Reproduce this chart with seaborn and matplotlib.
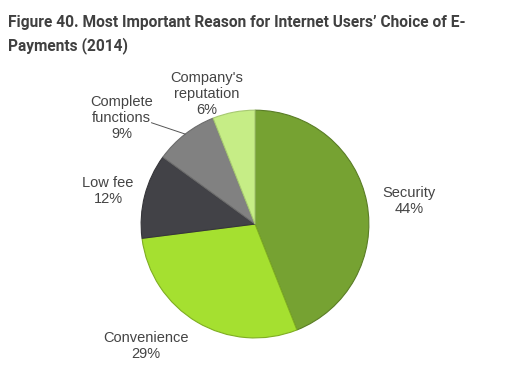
import numpy as np
import matplotlib
matplotlib.use("Agg")
import matplotlib.pyplot as plt
import seaborn as sns

sns.set_style("white")
plt.rcParams['font.family'] = ['Liberation Sans', 'DejaVu Sans']

# data
labels = ["Security", "Convenience", "Low fee", "Complete\nfunctions", "Company's\nreputation"]
shares = [44, 29, 12, 9, 6]
colors = ["#76a232", "#a5e030", "#424247", "#818181", "#c6ed86"]
edge_colors = ["#5a7d26", "#7fae22", "#36363a", "#6c6c6c", "#a7c972"]

# label placement (in pie-radius units)
label_x = [1.35, -0.96, -1.29, -1.17, -0.42]
label_y = [0.20, -1.07, 0.29, 0.93, 1.14]

fig = plt.figure(figsize=(5.10, 3.83), dpi=100)
fig.patch.set_facecolor("white")

fig.text(0.016, 0.962, "Figure 40. Most Important Reason for Internet Users’ Choice of E-\nPayments (2014)",
         ha="left", va="top", fontsize=11.2, fontweight="bold", color="#404040",
         family=['Roboto', 'DejaVu Sans'], linespacing=1.6)

ax = fig.add_axes([0.5 - 0.2255, 0.415 - 0.3003, 0.451, 0.6006])
wedges, _ = ax.pie(shares, colors=colors, startangle=90, counterclock=False,
                   wedgeprops=dict(linewidth=0.8))
for w, ec in zip(wedges, edge_colors):
    w.set_edgecolor(ec)
ax.set_aspect("equal")
ax.set_xlim(-1.01, 1.01)
ax.set_ylim(-1.01, 1.01)

for lab, val, x, y in zip(labels, shares, label_x, label_y):
    ax.text(x, y, f"{lab}\n{val}%", ha="center", va="center", fontsize=10.5,
            color="#444444", linespacing=1.2, clip_on=False)

# leader line for "Complete functions"
w = wedges[3]
theta = np.deg2rad((w.theta1 + w.theta2) / 2)
ax.plot([-0.91, np.cos(theta)], [0.89, np.sin(theta)], color="#555555", lw=0.7, clip_on=False)

fig.savefig("out.png", dpi=100, facecolor="white")
